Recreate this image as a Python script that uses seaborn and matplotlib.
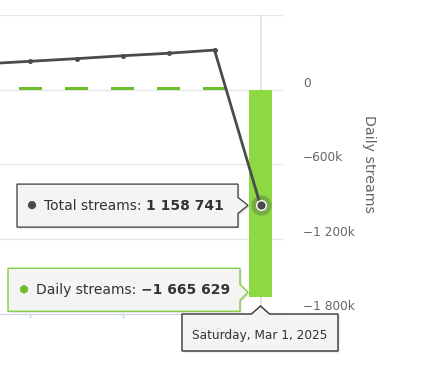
import numpy as np
import pandas as pd
import seaborn as sns
import matplotlib.pyplot as plt
from matplotlib.patches import Polygon, Circle
from matplotlib.text import Annotation
from matplotlib.transforms import ScaledTranslation

# data (Feb 23 point sits just outside the visible area)
dates = ['Feb 23', 'Feb 24', 'Feb 25', 'Feb 26', 'Feb 27', 'Feb 28', 'Mar 1']
total_streams = [2_676_000, 2_704_000, 2_732_000, 2_763_000, 2_790_000, 2_824_370, 1_158_741]
daily_streams = [25_000, 25_000, 25_000, 25_000, 25_000, 25_000, -1_665_629]
daily_ticks = [-1_800_000, -1_200_000, -600_000, 0, 600_000]
daily_tick_labels = ['\u22121 800k', '\u22121 200k', '\u2212600k', '0', '']
x_tick_days = [1, 3, 5]
x_tick_labels = ['', '', '28. Feb']
hover_date = 'Saturday, Mar 1, 2025'
total_label = '1 158 741'
daily_label = '\u22121 665 629'

df = pd.DataFrame({'day': np.arange(len(dates)), 'date': dates,
                   'total': total_streams, 'daily': daily_streams})

sns.set_style('white')
plt.rcParams['font.family'] = ['DejaVu Sans']

LINE = '#4b4b4b'
GREEN = '#6cbf2a'
GREEN_HOVER = '#8cd943'
GREEN_EDGE = '#84cc45'
LABEL = '#666666'

fig = plt.figure(figsize=(4.24, 3.71), dpi=100)
ax = fig.add_axes([0, 57.5 / 371, 283 / 424, 298.5 / 371])

bar_colors = [GREEN] * (len(dates) - 1) + [GREEN_HOVER]
sns.barplot(data=df, x='day', y='daily', hue='day', palette=bar_colors, width=0.5,
            saturation=1, linewidth=0, legend=False, ax=ax, zorder=2)
ax.axvline(df['day'].iloc[-1], color='#e0e0e0', lw=1.2, zorder=0.8)

ax2 = ax.twinx()
sns.lineplot(data=df, x='day', y='total', ax=ax2, color=LINE, lw=2,
             marker='o', markersize=3.6, markeredgewidth=0, zorder=3)
# hovered point + halo
ax2.scatter(df['day'].iloc[-1], df['total'].iloc[-1], s=210, color=LINE, alpha=0.32, lw=0, zorder=4)
ax2.scatter(df['day'].iloc[-1], df['total'].iloc[-1], s=48, color=LINE, edgecolor='white', lw=1, zorder=5)

ax.set_xlim(0.337, 6.489)
ax.set_ylim(-1_800_000, 600_000)
ax2.set_ylim(0, 3_200_000)

ax.yaxis.tick_right()
ax.set_yticks(daily_ticks)
ax.set_yticklabels(daily_tick_labels)
ax.tick_params(axis='y', length=0, pad=14.4, labelsize=8.7, labelcolor=LABEL)
plt.setp(ax.get_yticklabels(), va='bottom')
ax.grid(axis='y', color='#e6e6e6', lw=1)
ax.grid(axis='x', visible=False)

ax.set_xticks(x_tick_days)
ax.set_xticklabels(x_tick_labels)
ax.tick_params(axis='x', bottom=True, length=2.9, width=1, color='#ccd6eb',
               pad=6.8, labelsize=8.7, labelcolor=LABEL)
ax.set_xlabel('')
ax.set_ylabel('Daily streams', rotation=270, color=LABEL, fontsize=10.2, va='center')
ax.yaxis.set_label_position('right')
ax.yaxis.set_label_coords(376 / 283, 0.5)

for s in ['top', 'left', 'right']:
    ax.spines[s].set_visible(False)
ax.spines['bottom'].set_color('#ccd6eb')
for s in ax2.spines.values():
    s.set_visible(False)
ax2.set_yticks([])
ax2.set_ylabel('')


def anchor(a, x, y):
    return fig.dpi_scale_trans + ScaledTranslation(x, y, a.transData)


def tooltip(trans, verts, edge):
    pts = np.array(verts) / fig.dpi
    shadow = Polygon(pts + np.array([1.5, -1.5]) / fig.dpi, closed=True, transform=trans,
                     facecolor='black', alpha=0.12, lw=0, zorder=5)
    box = Polygon(pts, closed=True, transform=trans, facecolor='#f7f7f7', alpha=0.88,
                  edgecolor='none', zorder=6)
    border = Polygon(pts, closed=True, transform=trans, facecolor='none',
                     edgecolor=edge, lw=1, zorder=6.5)
    for p in (shadow, box, border):
        fig.add_artist(p)


def tip_text(trans, x, y, label, value, color):
    fig.add_artist(Circle((x - 12 / fig.dpi, y + 4.5 / fig.dpi), 3.4 / fig.dpi,
                          transform=trans, color=color, zorder=7))
    t1 = fig.text(x, y, label, transform=trans, fontsize=10, color='#333333',
                  va='baseline', ha='left', zorder=7)
    fig.add_artist(Annotation(value, xy=(1, 0), xycoords=t1, va='bottom', ha='left',
                              fontsize=10, fontweight='bold', color='#333333', zorder=7))


last = df['day'].iloc[-1]

# total streams tooltip (points right, at the line point)
tr1 = anchor(ax2, last, df['total'].iloc[-1])
tooltip(tr1, [(-243.5, -21.7), (-22.5, -21.7), (-22.5, -8), (-12.5, 0), (-22.5, 8),
              (-22.5, 21.3), (-243.5, 21.3)], LINE)
tip_text(tr1, -216.5 / fig.dpi, -4.2 / fig.dpi, 'Total streams: ', total_label, LINE)

# daily streams tooltip (points right, at the bar end)
tr2 = anchor(ax, last, df['daily'].iloc[-1])
tooltip(tr2, [(-252.5, -14.5), (-20.5, -14.5), (-20.5, -3.5), (-12.5, 4.5), (-20.5, 12.5),
              (-20.5, 28.5), (-252.5, 28.5)], GREEN_EDGE)
tip_text(tr2, -224.5 / fig.dpi, 3 / fig.dpi, 'Daily streams: ', daily_label, GREEN)

# date tooltip under the x axis
tr3 = anchor(ax, last, daily_ticks[0])
tooltip(tr3, [(-78.5, -37.5), (77.5, -37.5), (77.5, -0.5), (9, -0.5), (0, 7.5), (-9, -0.5),
              (-78.5, -0.5)], '#333333')
fig.text(-1 / fig.dpi, -25 / fig.dpi, hover_date, transform=tr3, fontsize=8.7,
         color='#333333', ha='center', va='baseline', zorder=7)

fig.savefig('out.png', dpi=100)
